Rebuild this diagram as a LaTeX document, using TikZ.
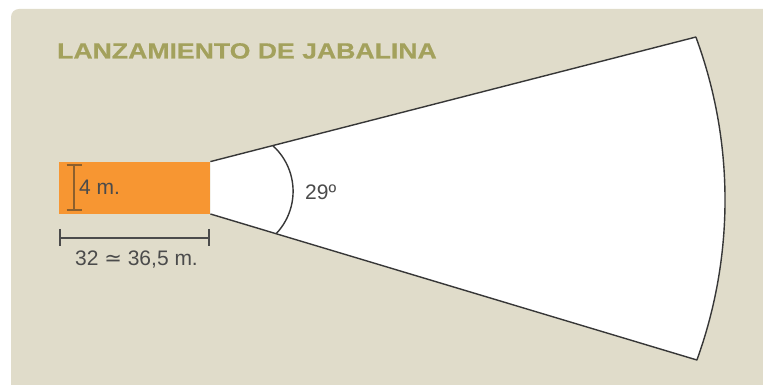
\documentclass[tikz,border=0pt]{standalone}
\usepackage{fontspec}
\usetikzlibrary{calc}
\setmainfont{Liberation Sans}
\newfontfamily\symfont{DejaVu Sans}
\newfontfamily\titlefont[FakeStretch=1.21,FakeBold=0.6]{Liberation Sans}
\definecolor{bgc}{RGB}{224,220,202}
\definecolor{titlec}{RGB}{163,161,92}
\definecolor{runwayc}{RGB}{247,150,50}
\definecolor{inkc}{RGB}{55,55,55}
\definecolor{txtc}{RGB}{75,75,75}
\definecolor{beamc}{RGB}{140,95,45}
\tikzset{
  lbl/.style={inner sep=0pt, anchor=base west, text=txtc, font=\fontsize{21}{25}\selectfont},
  outline/.style={draw=inkc, line width=1.4pt},
  dimline/.style={draw=txtc, line width=1.5pt},
  beamline/.style={draw=beamc, line width=1.8pt}
}
\begin{document}
\begin{tikzpicture}[x=1pt,y=1pt,line join=round]
\useasboundingbox (0,0) rectangle (763,385);
% background panel
\fill[bgc] (11,0) -- (11,368) arc[start angle=180,end angle=90,radius=8] -- (763,376) -- (763,0) -- cycle;
% title
\node[inner sep=0pt, anchor=base west, text=titlec, font=\titlefont\bfseries\fontsize{22}{26}\selectfont] (title) at (57,326.5) {LANZAMIENTO DE JABALINA};
% runway
\node[fill=runwayc, inner sep=0pt, minimum width=151pt, minimum height=52pt, anchor=south west] (runway) at (59,171) {};
% landing sector
\coordinate (arcC) at (255.4,185.1);
\coordinate (farTop) at (696.0,348.2);
\coordinate (farBot) at (696.9,25.0);
\filldraw[fill=white, outline] (runway.south east) -- (farBot) arc[start angle=-19.93, end angle=20.29, radius=469.7] -- (runway.north east);
% angle arc
\coordinate (angC) at (231.6,193.7);
\draw[outline] ($(angC)+(-43.7:61.5)$) arc[start angle=-43.7, end angle=47.7, radius=61.5];
\node[lbl] (angle) at (305,185) {29º};
% width marker
\coordinate (wTop) at (74,220);
\coordinate (wBot) at (74,175);
\draw[beamline] (wTop) -- (wBot);
\draw[beamline] ([xshift=-7.5pt]wTop) -- ([xshift=7.5pt]wTop);
\draw[beamline] ([xshift=-7.5pt]wBot) -- ([xshift=7.5pt]wBot);
\node[lbl] (width) at (79,190) {4 m.};
% length marker
\coordinate (lL) at (60,147);
\coordinate (lR) at (209,147);
\draw[dimline] (lL) -- (lR);
\draw[dimline] ([yshift=9pt]lL) -- ([yshift=-8pt]lL);
\draw[dimline] ([yshift=9pt]lR) -- ([yshift=-8pt]lR);
\node[lbl] (length) at (75,119) {32 {\symfont ≃} 36,5 m.};
\end{tikzpicture}
\end{document}
